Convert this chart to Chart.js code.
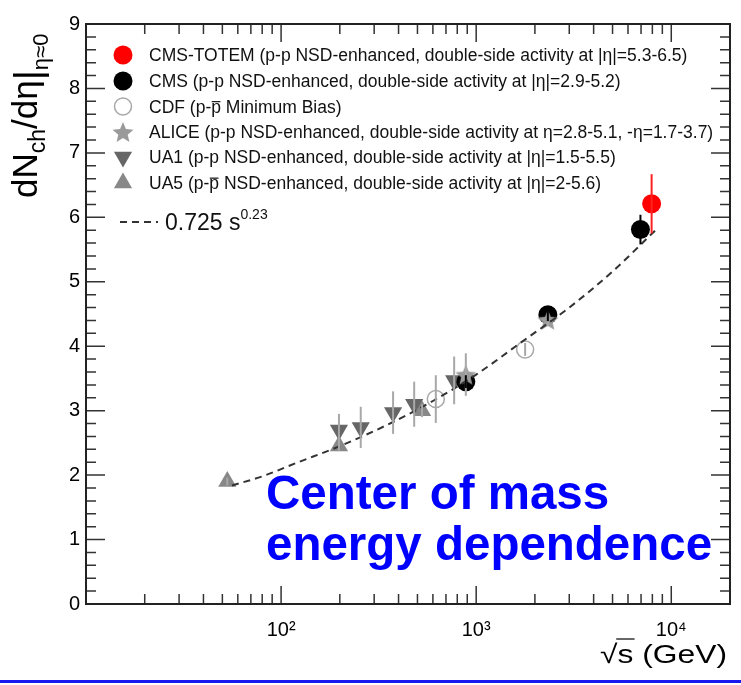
<!DOCTYPE html>
<html>
<head>
<meta charset="utf-8">
<script src="https://cdn.jsdelivr.net/npm/chart.js@4.4.0/dist/chart.umd.min.js"></script>
<style>
  html, body { margin: 0; padding: 0; background: #fff; }
</style>
</head>
<body>
<canvas id="multChart" width="741" height="685"></canvas>
<script>
// valeurs (sqrt(s) en GeV, dNch/deta)
const totemX = [7930];
const totemY = [6.21];
const totemErr = [0.46];

const cmsX = [885, 2330, 6950];
const cmsY = [3.45, 4.49, 5.81];
const cmsErr = [0.10, 0.10, 0.23];

const cdfX = [621, 1782];
const cdfY = [3.18, 3.95];
const cdfErr = [0.37, 0.10];

const aliceX = [885, 2330];
const aliceY = [3.56, 4.41];
const aliceErr = [0.33, 0.10];

const ua1X = [198, 256, 375, 481, 771];
const ua1Y = [2.70, 2.74, 2.97, 3.10, 3.47];
const ua1Err = [0.25, 0.32, 0.33, 0.35, 0.37];

const ua5X = [53, 198, 528];
const ua5Y = [1.90, 2.45, 3.00];
const ua5Err = [0.06, 0.08, 0.10];

// courbe 0.725 s^0.23
const fitX = [56, 80, 120, 200, 350, 600, 1000, 1700, 3000, 5000, 8300];
const fitY = [1.84, 1.98, 2.19, 2.45, 2.78, 3.15, 3.56, 4.06, 4.60, 5.16, 5.80];

const yTicks = [0, 1, 2, 3, 4, 5, 6, 7, 8, 9];
const xDecades = [100, 1000, 10000];

const legendLabels = [
    [{ t: 'CMS-TOTEM (p-p NSD-enhanced, double-side activity at |η|=5.3-6.5)' }],
    [{ t: 'CMS (p-p NSD-enhanced, double-side activity at |η|=2.9-5.2)' }],
    [{ t: 'CDF (p-' }, { t: 'p', over: true }, { t: ' Minimum Bias)' }],
    [{ t: 'ALICE (p-p NSD-enhanced, double-side activity at η=2.8-5.1, -η=1.7-3.7)' }],
    [{ t: 'UA1 (p-p NSD-enhanced, double-side activity at |η|=1.5-5.5)' }],
    [{ t: 'UA5 (p-' }, { t: 'p', over: true }, { t: ' NSD-enhanced, double-side activity at |η|=2-5.6)' }]
];
const annotationLines = ['Center of mass', 'energy dependence'];

const FONT = '"Liberation Sans", Arial, Helvetica, sans-serif';

function pts(xs, ys) {
    return xs.map((x, i) => ({ x: x, y: ys[i] }));
}

// etoile a 5 branches (le style 'star' de Chart.js n'en a pas)
function makeStar(size, color) {
    const c = document.createElement('canvas');
    c.width = size; c.height = size;
    const g = c.getContext('2d');
    const cx = size / 2, cy = size / 2 + size * 0.05;
    const R = size / 2, r = R * 0.45;
    g.beginPath();
    for (let i = 0; i < 10; i++) {
        const a = -Math.PI / 2 + i * Math.PI / 5;
        const rr = i % 2 ? r : R;
        g.lineTo(cx + rr * Math.cos(a), cy + rr * Math.sin(a));
    }
    g.closePath();
    g.fillStyle = color;
    g.fill();
    return c;
}
const starImg = makeStar(22, '#9a9a9a');

const datasets = [
    {
        label: 'fit', data: pts(fitX, fitY), showLine: true, pointRadius: 0,
        borderColor: '#333', borderWidth: 2, borderDash: [7, 5], cubicInterpolationMode: 'monotone'
    },
    {
        label: 'CMS-TOTEM', data: pts(totemX, totemY), err: totemErr, errColor: '#ff2020',
        pointStyle: 'circle', pointRadius: 9.5, backgroundColor: '#ff0000', borderColor: '#ff0000', borderWidth: 0
    },
    {
        label: 'ALICE', data: pts(aliceX, aliceY), err: aliceErr, errColor: '#a8a8a8',
        pointStyle: starImg, pointRadius: 11, backgroundColor: '#9a9a9a', borderColor: '#9a9a9a', borderWidth: 0
    },
    {
        label: 'CMS', data: pts(cmsX, cmsY), err: cmsErr, errColor: '#000',
        pointStyle: 'circle', pointRadius: 9.5, backgroundColor: '#000', borderColor: '#000', borderWidth: 0
    },
    {
        label: 'CDF', data: pts(cdfX, cdfY), err: cdfErr, errColor: '#a8a8a8',
        pointStyle: 'circle', pointRadius: 8.5, backgroundColor: 'rgba(0,0,0,0)', borderColor: '#a8a8a8', borderWidth: 1.5
    },
    {
        label: 'UA1', data: pts(ua1X, ua1Y), err: ua1Err, errColor: '#a8a8a8',
        pointStyle: 'triangle', rotation: 180, pointRadius: 10.5, backgroundColor: '#666', borderColor: '#666', borderWidth: 0
    },
    {
        label: 'UA5', data: pts(ua5X, ua5Y), err: ua5Err, errColor: '#a8a8a8',
        pointStyle: 'triangle', rotation: 0, pointRadius: 10.5, backgroundColor: '#888', borderColor: '#888', borderWidth: 0
    }
];
// ordre de la legende
const legendOrder = ['CMS-TOTEM', 'CMS', 'CDF', 'ALICE', 'UA1', 'UA5'];

// texte avec indices / exposants / barre
function drawParts(ctx, parts, x, y) {
    let cx = x;
    parts.forEach(p => {
        const size = p.size || 16;
        ctx.font = (p.bold ? 'bold ' : '') + size + 'px ' + FONT;
        const w = ctx.measureText(p.t).width;
        ctx.fillText(p.t, cx, y + (p.dy || 0));
        if (p.over) {
            ctx.save();
            ctx.lineWidth = 1.2;
            ctx.strokeStyle = ctx.fillStyle;
            ctx.beginPath();
            ctx.moveTo(cx + 0.5, y + (p.dy || 0) - size * 0.62);
            ctx.lineTo(cx + w - 0.5, y + (p.dy || 0) - size * 0.62);
            ctx.stroke();
            ctx.restore();
        }
        cx += w;
    });
    return cx;
}

// barres d'erreur verticales
const errorBars = {
    id: 'errorBars',
    afterDatasetsDraw(chart) {
        const ctx = chart.ctx, ys = chart.scales.y;
        chart.data.datasets.forEach((ds, i) => {
            if (!ds.err) return;
            const meta = chart.getDatasetMeta(i);
            ctx.save();
            ctx.strokeStyle = ds.errColor;
            ctx.lineWidth = 2;
            meta.data.forEach((el, j) => {
                const v = ds.data[j].y, e = ds.err[j];
                ctx.beginPath();
                ctx.moveTo(el.x, ys.getPixelForValue(v + e));
                ctx.lineTo(el.x, ys.getPixelForValue(v - e));
                ctx.stroke();
            });
            ctx.restore();
        });
    }
};

// cadre et graduations interieures facon ROOT
const frameTicks = {
    id: 'frameTicks',
    afterDraw(chart) {
        const ctx = chart.ctx, a = chart.chartArea;
        const xs = chart.scales.x, ys = chart.scales.y;
        ctx.save();
        ctx.strokeStyle = '#333';
        ctx.lineWidth = 1.5;
        for (let k = 0; k <= 45; k++) {
            const v = k * 0.2;
            const py = ys.getPixelForValue(v);
            const len = k % 5 === 0 ? 19 : 10;
            ctx.beginPath();
            ctx.moveTo(a.left, py); ctx.lineTo(a.left + len, py);
            ctx.moveTo(a.right, py); ctx.lineTo(a.right - len, py);
            ctx.stroke();
        }
        [10, 100, 1000, 10000].forEach(dec => {
            for (let m = 1; m <= 9; m++) {
                const v = dec * m;
                if (v <= xs.min || v >= xs.max) continue;
                const px = xs.getPixelForValue(v);
                const len = m === 1 ? 18 : 10;
                ctx.beginPath();
                ctx.moveTo(px, a.bottom); ctx.lineTo(px, a.bottom - len);
                ctx.moveTo(px, a.top); ctx.lineTo(px, a.top + len);
                ctx.stroke();
            }
        });
        ctx.lineWidth = 2;
        ctx.strokeStyle = '#222';
        ctx.strokeRect(a.left, a.top, a.right - a.left, a.bottom - a.top);
        ctx.restore();
    }
};

// titres, legende, annotation
const decorations = {
    id: 'decorations',
    afterDraw(chart) {
        const ctx = chart.ctx;
        ctx.save();
        ctx.fillStyle = '#000';
        ctx.textBaseline = 'alphabetic';

        // titre axe Y
        ctx.save();
        ctx.translate(37, 198);
        ctx.rotate(-Math.PI / 2);
        drawParts(ctx, [
            { t: 'dN', size: 35 },
            { t: 'ch', size: 23, dy: 8 },
            { t: '/dη', size: 35 },
            { t: '|', size: 39, dy: 4 },
            { t: 'η≈0', size: 22, dy: 11 }
        ], 0, 0);
        ctx.restore();

        // titre axe X (texte etire comme dans l'original)
        ctx.save();
        ctx.font = '26px ' + FONT;
        const tail = 's (GeV)';
        const wTail = ctx.measureText(tail).width;
        const wRoot = ctx.measureText('√').width;
        const wS = ctx.measureText('s').width;
        const sx = 127 / (wTail + wRoot);
        ctx.translate(727, 663);
        ctx.scale(sx, 1);
        ctx.fillText('√', -wTail - wRoot, 0);
        ctx.fillText(tail, -wTail, 0);
        ctx.lineWidth = 1.2;
        ctx.strokeStyle = '#000';
        ctx.beginPath();
        ctx.moveTo(-wTail - 1, -24);
        ctx.lineTo(-wTail + wS + 1, -24);
        ctx.stroke();
        ctx.restore();

        // legende
        const rows = [55, 81, 106.5, 132, 157, 183];
        legendOrder.forEach((name, k) => {
            const ds = chart.data.datasets.find(d => d.label === name);
            ctx.save();
            ctx.fillStyle = ds.backgroundColor;
            ctx.strokeStyle = ds.borderColor;
            ctx.lineWidth = ds.borderWidth;
            Chart.helpers.drawPoint(ctx, {
                pointStyle: ds.pointStyle, radius: ds.pointRadius,
                rotation: ds.rotation || 0, borderWidth: ds.borderWidth
            }, 123, rows[k]);
            ctx.restore();
            ctx.fillStyle = '#111';
            drawParts(ctx, legendLabels[k].map(p => Object.assign({ size: 17.5 }, p)), 149, rows[k] + 6);
        });

        // entree de la courbe
        ctx.save();
        ctx.strokeStyle = '#333';
        ctx.lineWidth = 2;
        ctx.setLineDash([7, 5]);
        ctx.beginPath();
        ctx.moveTo(120, 222); ctx.lineTo(158, 222);
        ctx.stroke();
        ctx.restore();
        ctx.fillStyle = '#111';
        drawParts(ctx, [{ t: '0.725 s', size: 23 }, { t: '0.23', size: 14, dy: -11 }], 165, 230);

        // annotation bleue
        ctx.fillStyle = '#0000ff';
        ctx.font = 'bold 47.5px ' + FONT;
        ctx.fillText(annotationLines[0], 266, 509);
        ctx.fillText(annotationLines[1], 266, 560);

        // trait bleu en bas
        ctx.fillStyle = '#1a1af0';
        ctx.fillRect(0, 680, 741, 3);
        ctx.restore();
    }
};

const supDigits = { 2: '²', 3: '³', 4: '⁴' };

new Chart(document.getElementById('multChart'), {
    type: 'scatter',
    data: { datasets: datasets },
    options: {
        responsive: false,
        animation: false,
        devicePixelRatio: 1,
        layout: { padding: { left: 0, right: 11, top: 24, bottom: 0 } },
        plugins: { legend: { display: false }, tooltip: { enabled: false } },
        scales: {
            x: {
                type: 'logarithmic', min: 10, max: 20000,
                grid: { display: false, drawTicks: false }, border: { display: false },
                ticks: {
                    autoSkip: false, maxRotation: 0, padding: 14, color: '#000',
                    font: { size: 20, family: FONT },
                    callback: v => xDecades.includes(v) ? '10' + supDigits[Math.round(Math.log10(v))] : ''
                },
                afterFit: s => { s.height = 81; s.paddingLeft = 0; s.paddingRight = 0; }
            },
            y: {
                min: 0, max: 9,
                grid: { display: false, drawTicks: false }, border: { display: false },
                ticks: {
                    stepSize: 1, padding: 6, color: '#000',
                    font: { size: 20, family: FONT },
                    callback: v => yTicks.includes(v) ? String(v) : ''
                },
                afterFit: s => { s.width = 86; s.paddingTop = 0; s.paddingBottom = 0; }
            }
        }
    },
    plugins: [errorBars, frameTicks, decorations]
});
</script>
</body>
</html>
